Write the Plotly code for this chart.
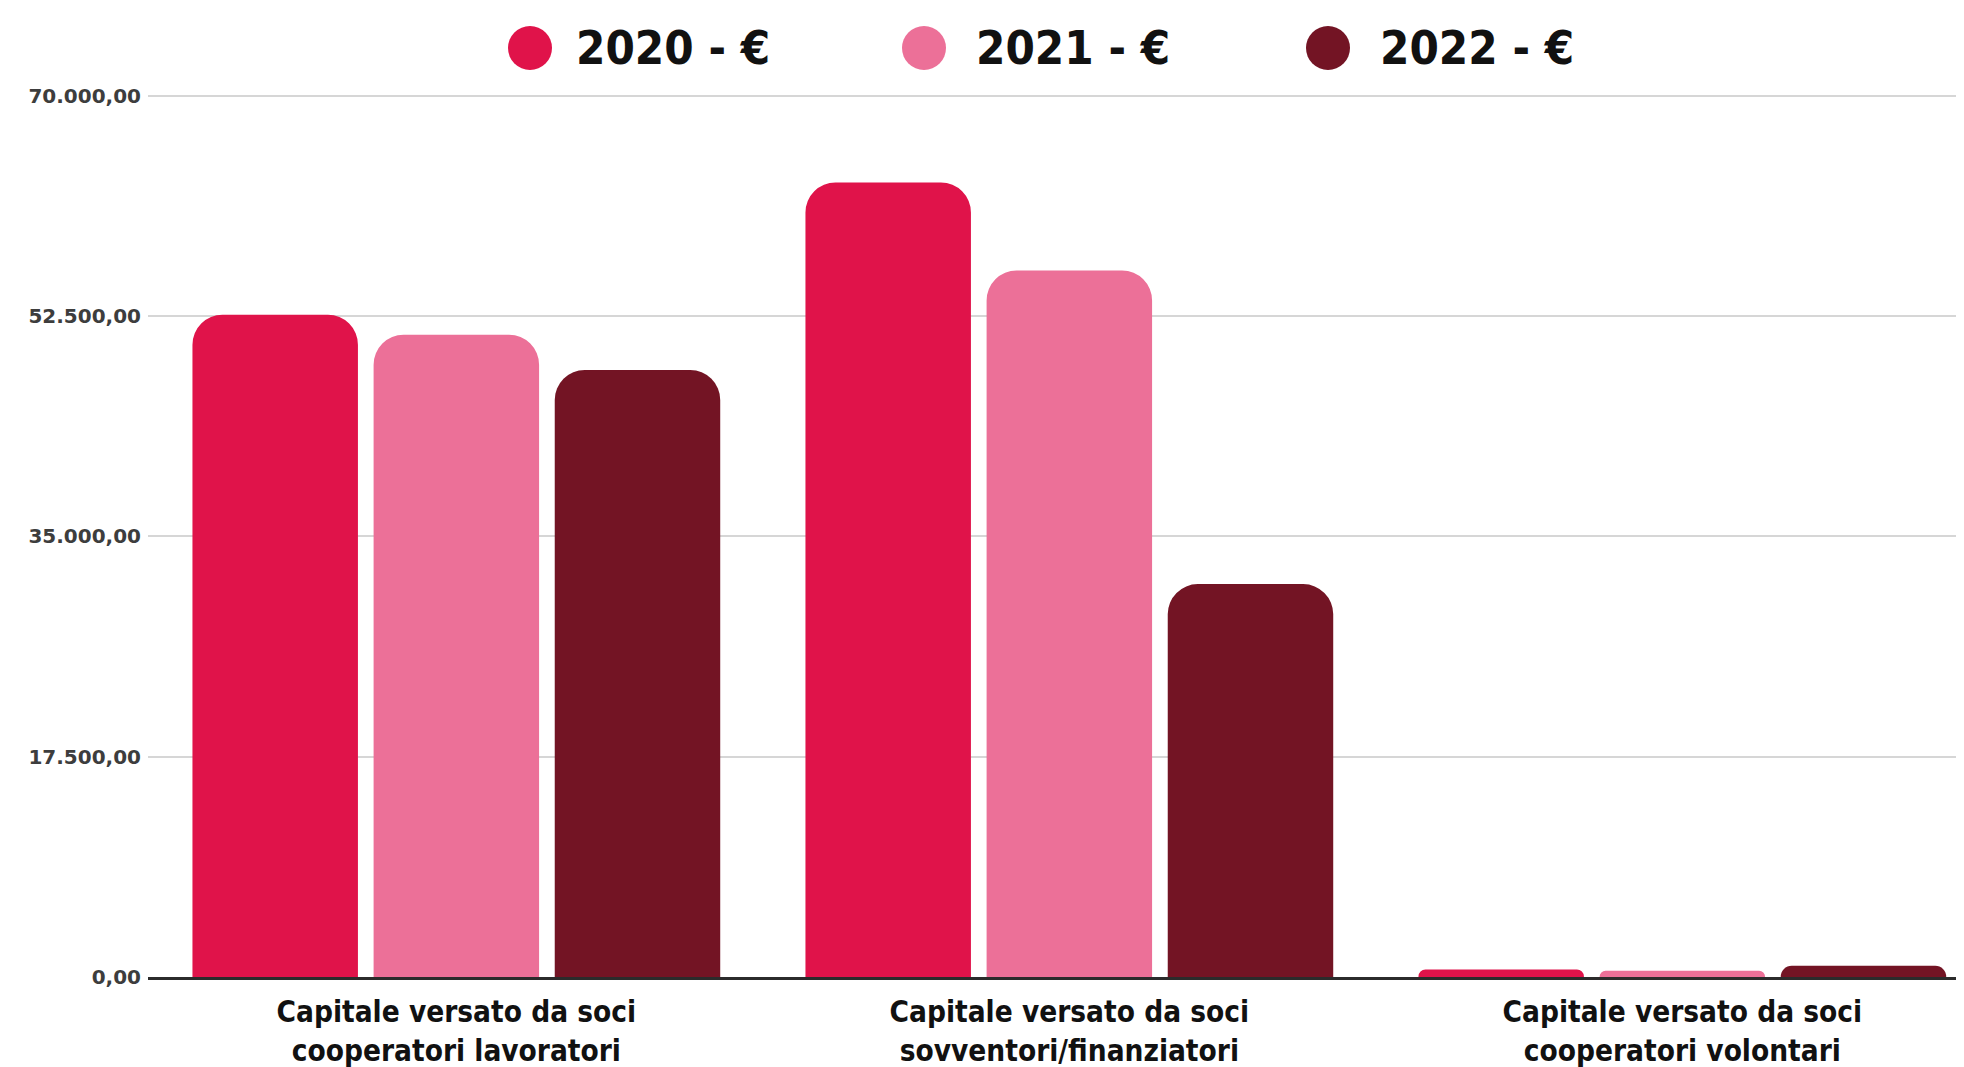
import plotly.graph_objects as go

categories = [
    "Capitale versato da soci<br>cooperatori lavoratori",
    "Capitale versato da soci<br>sovventori/finanziatori",
    "Capitale versato da soci<br>cooperatori volontari",
]
series_names = ["2020 - €", "2021 - €", "2022 - €"]
values_2020 = [52600, 63100, 600]
values_2021 = [51000, 56100, 500]
values_2022 = [48200, 31200, 900]
colors = ["#E0134A", "#EC7098", "#731424"]
tick_values = [0, 17500, 35000, 52500, 70000]
tick_labels = ["0,00", "17.500,00", "35.000,00", "52.500,00", "70.000,00"]

COND = "DejaVu Sans Condensed, Roboto, sans-serif"

fig = go.Figure()
for name, vals, col in zip(series_names, [values_2020, values_2021, values_2022], colors):
    fig.add_trace(go.Bar(
        x=categories, y=vals, name=name,
        marker=dict(color=col, cornerradius=30, line=dict(width=0)),
        showlegend=False,
    ))

# page body adds an 8px offset; margins are set so the drawn plot lands where intended
W, H = 1964, 1067
ml, mr, mt, mb = 140, 0, 85, 98
PW, PH = W - ml - mr, H - mt - mb

# custom legend: circles + text (figure-pixel positions)
legend_circle_x = [522, 916, 1320]
legend_text_x = [566, 966, 1370]
legend_y = 40
for name, col, cx, tx in zip(series_names, colors, legend_circle_x, legend_text_x):
    fig.add_shape(
        type="circle", xref="paper", yref="paper",
        xsizemode="pixel", ysizemode="pixel",
        xanchor=(cx - ml) / PW, yanchor=1 + (mt - legend_y) / PH,
        x0=-22, x1=22, y0=-22, y1=22,
        fillcolor=col, line=dict(width=0),
    )
    fig.add_annotation(
        text="<b>" + name + "</b>", xref="paper", yref="paper",
        x=(tx - ml) / PW, y=1 + (mt - legend_y) / PH,
        xanchor="left", yanchor="middle", showarrow=False,
        font=dict(family=COND, size=47, color="#111111"),
    )

cat_px = 613
x0 = -0.503
fig.update_layout(
    width=W, height=H,
    margin=dict(l=ml, r=mr, t=mt, b=mb),
    paper_bgcolor="white", plot_bgcolor="white",
    barmode="group", bargap=0.1135, bargroupgap=0.0865,
    xaxis=dict(
        range=[x0, x0 + PW / cat_px],
        showgrid=False, showline=True, linecolor="#2b2b2b", linewidth=3,
        ticks="", tickfont=dict(family=COND, size=29.5, color="#111111", weight="bold"),
        zeroline=False, ticklabelstandoff=7,
    ),
    yaxis=dict(
        range=[0, 70200], tickvals=tick_values, ticktext=tick_labels,
        showgrid=True, gridcolor="#d6d6d6", gridwidth=2,
        zeroline=False, showline=False, ticks="",
        tickfont=dict(family="DejaVu Sans", size=20, color="#3d3d3d", weight="bold"),
        ticklabelstandoff=6,
    ),
    font=dict(family=COND),
)

fig.write_html("out.html")
